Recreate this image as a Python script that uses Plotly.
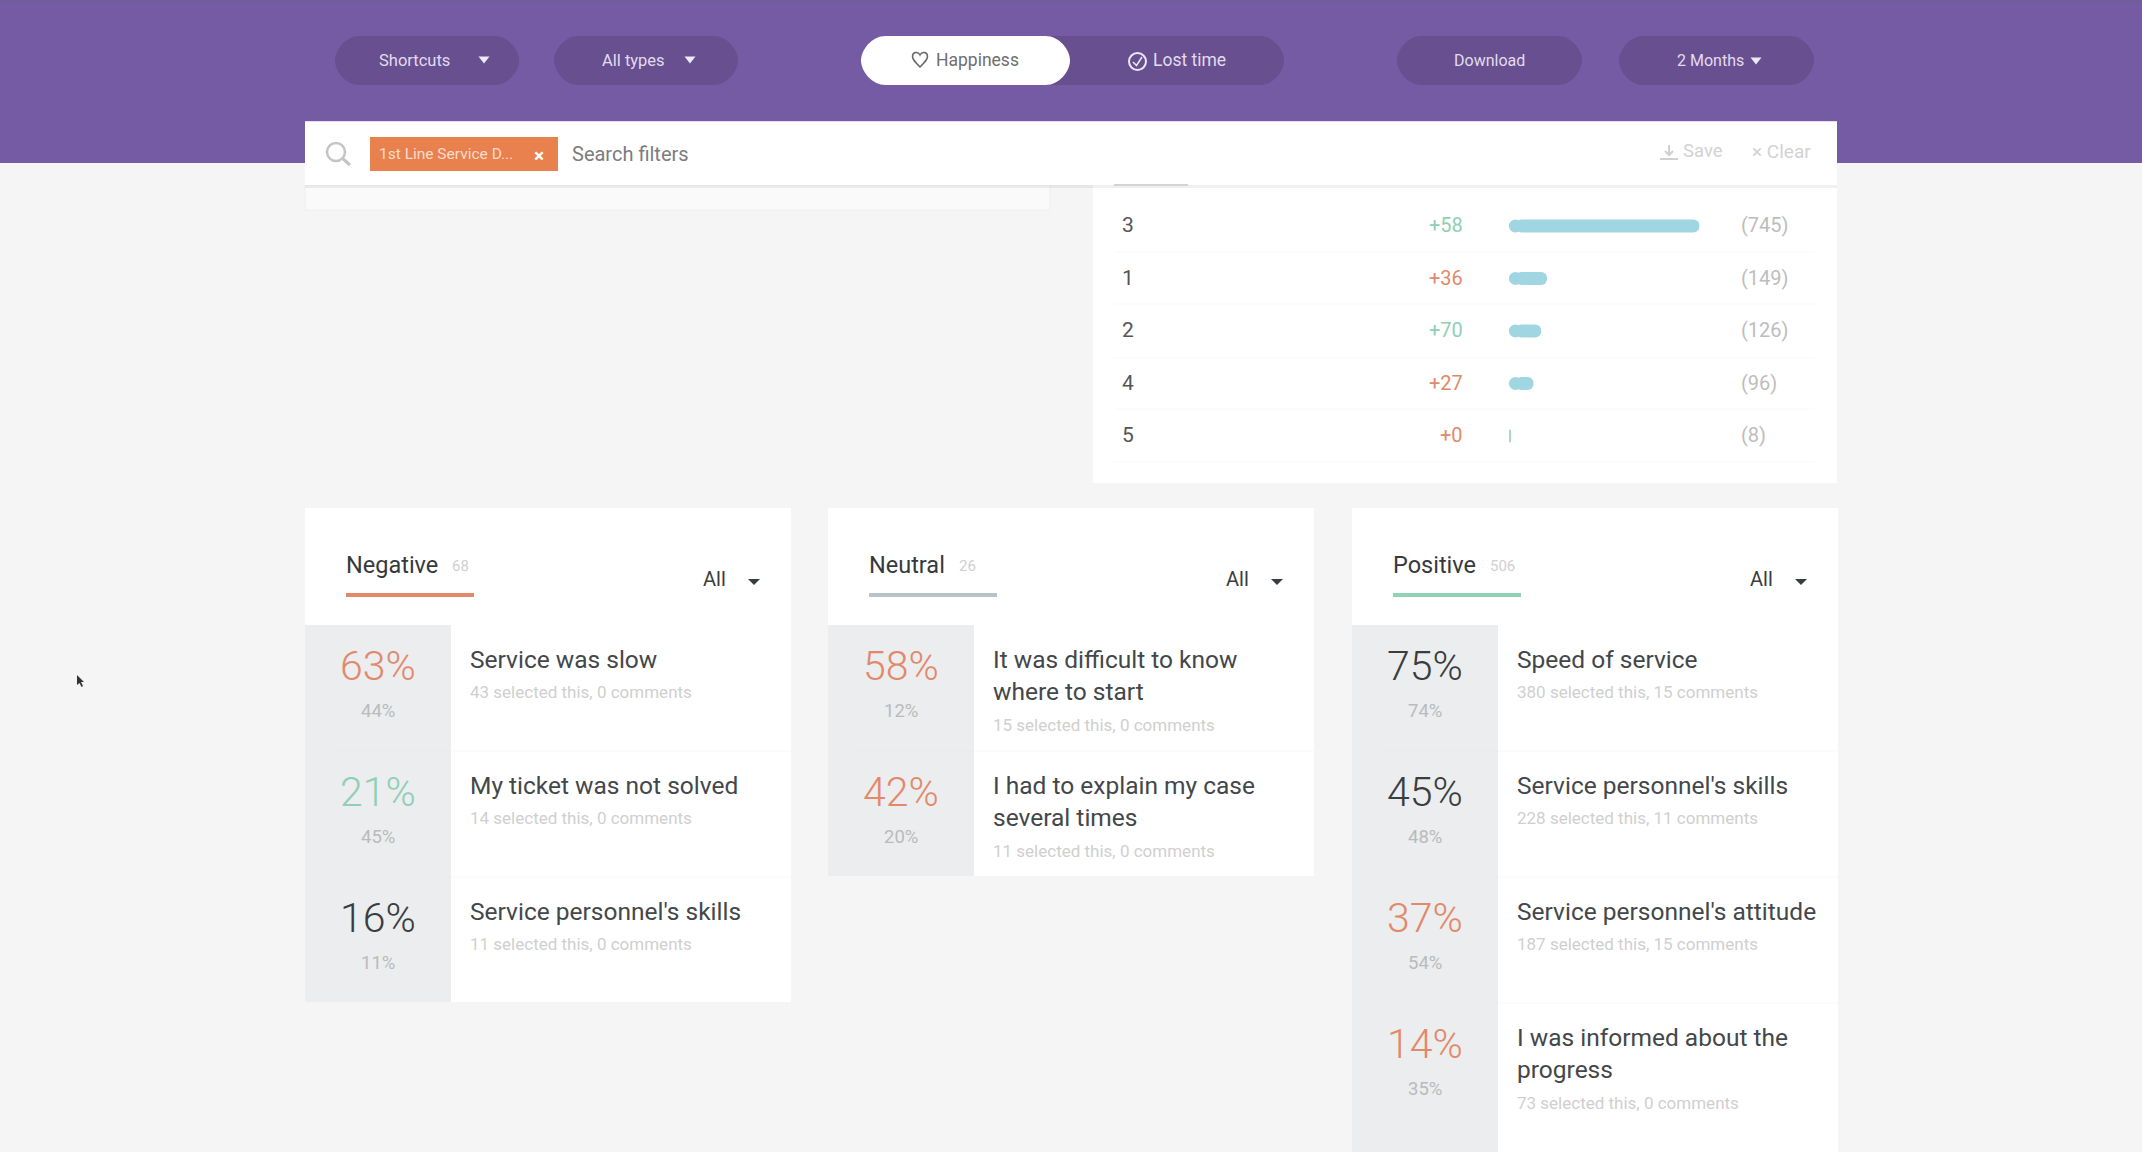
import plotly.graph_objects as go

# ---------- data ----------
rank_labels = ["3", "1", "2", "4", "5"]
rank_deltas = ["+58", "+36", "+70", "+27", "+0"]
rank_counts = [745, 149, 126, 96, 8]

column_names = ["Negative", "Neutral", "Positive"]
column_totals = ["68", "26", "506"]

negative_share = ["63%", "21%", "16%"]
negative_prev = ["44%", "45%", "11%"]
negative_titles = ["Service was slow", "My ticket was not solved", "Service personnel's skills"]
negative_notes = ["43 selected this, 0 comments", "14 selected this, 0 comments", "11 selected this, 0 comments"]

neutral_share = ["58%", "42%"]
neutral_prev = ["12%", "20%"]
neutral_titles = ["It was difficult to know\nwhere to start", "I had to explain my case\nseveral times"]
neutral_notes = ["15 selected this, 0 comments", "11 selected this, 0 comments"]

positive_share = ["75%", "45%", "37%", "14%"]
positive_prev = ["74%", "48%", "54%", "35%"]
positive_titles = ["Speed of service", "Service personnel's skills", "Service personnel's attitude",
                   "I was informed about the\nprogress"]
positive_notes = ["380 selected this, 15 comments", "228 selected this, 11 comments",
                  "187 selected this, 15 comments", "73 selected this, 0 comments"]

# ---------- styles ----------
FONT = "Roboto"
PURPLE, PILL = "#745ba4", "#674f90"
BG, CELL = "#f5f5f5", "#ebedee"
ORANGE, GREEN, DARK = "#e2896b", "#8fd0b4", "#3a3d40"
delta_colors = [GREEN, ORANGE, GREEN, ORANGE, ORANGE]
negative_colors = [ORANGE, GREEN, DARK]
neutral_colors = [ORANGE, ORANGE]
positive_colors = [DARK, DARK, ORANGE, ORANGE]
underline_colors = ["#e2896b", "#b7c3c9", "#8fd3b6"]

shapes, notes = [], []


def rect(x0, y0, x1, y1, fill, line=None):
    shapes.append(dict(type="rect", x0=x0, y0=y0, x1=x1, y1=y1, fillcolor=fill, layer="below",
                       line=dict(width=1 if line else 0, color=line or fill)))


def path(d, fill="rgba(0,0,0,0)", line=None, width=1.5):
    shapes.append(dict(type="path", path=d, fillcolor=fill, layer="below",
                       line=dict(width=width if line else 0, color=line or fill)))


def pill(x0, y0, x1, y1, fill):
    r = (y1 - y0) / 2
    path(f"M{x0+r},{y0} L{x1-r},{y0} C{x1-r*.45},{y0} {x1},{y0+r*.55} {x1},{y0+r} "
         f"C{x1},{y1-r*.55} {x1-r*.45},{y1} {x1-r},{y1} L{x0+r},{y1} "
         f"C{x0+r*.45},{y1} {x0},{y1-r*.55} {x0},{y0+r} C{x0},{y0+r*.55} {x0+r*.45},{y0} {x0+r},{y0} Z", fill)


def tri(cx, cy, w, h, fill):
    path(f"M{cx-w/2},{cy-h/2} L{cx+w/2},{cy-h/2} L{cx},{cy+h/2} Z", fill)


def text(x, y, s, size, color, anchor="left", weight=400):
    notes.append(dict(x=x, y=y, text=s, showarrow=False, xanchor=anchor, yanchor="middle", xref="x", yref="y",
                      font=dict(family=FONT, size=size, color=color, weight=weight)))


# ---------- header ----------
rect(0, 0, 2142, 163, PURPLE)
rect(0, 0, 2142, 2, "#6f5e98")
pill(335, 36, 519, 85, PILL)
pill(554, 36, 738, 85, PILL)
pill(861, 36, 1284, 85, PILL)
pill(861, 36, 1070, 85, "#ffffff")
pill(1397, 36, 1582, 85, PILL)
pill(1619, 36, 1814, 85, PILL)
text(377, 60, "Shortcuts", 16.5, "#e2dcee")
tri(484, 60, 11, 7, "#eeeaf5")
text(600, 60, "All types", 16.5, "#e2dcee")
tri(690, 60, 11, 7, "#eeeaf5")
path("M920,67 C915,62 912.5,59.5 912.5,56.5 C912.5,52 918,51 920,55 C922,51 927.5,52 927.5,56.5 "
     "C927.5,59.5 925,62 920,67 Z", line="#666666", width=1.5)
text(934, 60, "Happiness", 17.5, "#6e6e6e")
shapes.append(dict(type="circle", x0=1129, y0=53, x1=1146, y1=70, layer="below", line=dict(color="#ece7f4", width=2)))
path("M1133,62 L1136.5,65.5 L1142,57", line="#ece7f4", width=1.5)
text(1151, 60, "Lost time", 17.5, "#e2dcee")
text(1452, 60, "Download", 16, "#e2dcee")
text(1675, 60, "2 Months", 16, "#e2dcee")
tri(1756, 61, 11, 7, "#eeeaf5")

# ---------- page background panels ----------
rect(305, 185, 1050, 210, "#fafafa", "#eeeeee")
rect(1093, 185, 1837, 483, "#ffffff")
for y in (252, 304, 358, 409, 462):
    shapes.append(dict(type="line", x0=1114, x1=1815, y0=y, y1=y, layer="below", line=dict(color="#f9f9f9", width=1)))

# ---------- search bar ----------
rect(305, 185, 1837, 188, "rgba(0,0,0,0.06)")
rect(305, 121, 1837, 185, "#ffffff")
rect(305, 121, 1837, 122, "#e4dbf5")
rect(1114, 184, 1188, 186, "#d4d4d4")
shapes.append(dict(type="circle", x0=327, y0=143, x1=345, y1=161, layer="below", line=dict(color="#c4c4c4", width=2.5)))
shapes.append(dict(type="line", x0=342, y0=158, x1=350, y1=165, layer="below", line=dict(color="#c4c4c4", width=3)))
rect(370, 137, 558, 171, "#e9814f")
text(377, 154, "1st Line Service D...", 15.5, "#fbdccb")
text(539, 155, "×", 19, "#ffffff", "center", 700)
text(570, 154, "Search filters", 20, "#7c7c7c")
path("M1669,145 L1669,154 M1665,151 L1669,155 L1673,151", line="#d0d0d0", width=2)
rect(1660, 158, 1678, 160, "#d0d0d0")
text(1681, 151, "Save", 18.5, "#d2d2d2")
text(1750, 151, "× Clear", 19, "#d2d2d2")

# ---------- ranking rows (text) ----------
row_mid = [225 + 52.5 * i for i in range(len(rank_labels))]
for y, lab, d, c, col in zip(row_mid, rank_labels, rank_deltas, rank_counts, delta_colors):
    text(1120, y, lab, 21, "#555555")
    text(1465, y, d, 20, col, "right")
    text(1739, y, f"({c})", 20, "#bdbdbd")

# ---------- comment cards ----------
card_left = [305, 828, 1352]
card_share = [negative_share, neutral_share, positive_share]
card_prev = [negative_prev, neutral_prev, positive_prev]
card_titles = [negative_titles, neutral_titles, positive_titles]
card_notes = [negative_notes, neutral_notes, positive_notes]
card_colors = [negative_colors, neutral_colors, positive_colors]
ROW = 126
for k, x0 in enumerate(card_left):
    n = len(card_share[k])
    bottom = 1152 if k == 2 else 624 + ROW * n
    rect(x0, 508, x0 + 486, bottom, "#ffffff")
    rect(x0, 625, x0 + 146, bottom, CELL)
    text(x0 + 39, 565, column_names[k], 23.5, "#36393c")
    tw = {0: 145, 1: 129, 2: 136}[k]
    text(x0 + tw, 566, column_totals[k], 15, "#d0d0d0")
    rect(x0 + 41, 593, x0 + 169, 597, underline_colors[k])
    text(x0 + 396, 579, "All", 20, "#3a3d40")
    tri(x0 + 449, 582, 12, 6, "#3a3d40")
    for i in range(n):
        y0 = 625 + ROW * i
        if i:
            shapes.append(dict(type="line", x0=x0 + 146, x1=x0 + 486, y0=y0, y1=y0, layer="below",
                               line=dict(color="#f8f8f8", width=1)))
            shapes.append(dict(type="line", x0=x0 + 25, x1=x0 + 146, y0=y0, y1=y0, layer="below",
                               line=dict(color="#e9ebec", width=1)))
        cx = x0 + 73
        text(cx, y0 + 41, card_share[k][i], 41, card_colors[k][i], "center", 300)
        text(cx, y0 + 86, card_prev[k][i], 18.5, "#b9bbbc", "center")
        lines = card_titles[k][i].split("\n")
        for j, line in enumerate(lines):
            text(x0 + 162.5, y0 + 34 + 32.5 * j, line, 24.5, "#44474a")
        text(x0 + 162.5, y0 + 67 + 32.5 * (len(lines) - 1), card_notes[k][i], 17, "#cfcfcf")

# cursor
path("M77,675 L77,685 L79.5,683 L81.5,687 L83,686 L81,682 L84,682 Z", "#333333")

# ---------- figure ----------
CAP = 25  # half the bar thickness, in count units: the rounded start of each long bar
long_bar = [c > 2 * CAP for c in rank_counts]
fig = go.Figure()
fig.add_trace(go.Bar(
    x=[c - CAP if b else c for c, b in zip(rank_counts, long_bar)],
    base=[CAP if b else 0 for b in long_bar],
    y=rank_labels, orientation="h", xaxis="x2", yaxis="y2", width=0.25,
    marker=dict(color=["#9fd6e2"] * 4 + ["#a5dcc8"], cornerradius="50%", line=dict(width=0)),
    hoverinfo="skip", showlegend=False,
))
fig.add_trace(go.Scatter(
    x=[CAP for b in long_bar if b], y=[r for r, b in zip(rank_labels, long_bar) if b],
    mode="markers", xaxis="x2", yaxis="y2", cliponaxis=False,
    marker=dict(size=13, color="#9fd6e2", line=dict(width=0)), hoverinfo="skip", showlegend=False,
))
fig.update_layout(
    width=2142, height=1152, margin=dict(l=0, r=0, t=0, b=0), autosize=False,
    paper_bgcolor=BG, plot_bgcolor="rgba(0,0,0,0)", showlegend=False,
    shapes=shapes, annotations=notes,
    xaxis=dict(range=[0, 2142], visible=False, domain=[0, 1], fixedrange=True),
    yaxis=dict(range=[1152, 0], visible=False, domain=[0, 1], fixedrange=True),
    xaxis2=dict(range=[0, 745], domain=[1509 / 2142, 1699.5 / 2142], anchor="y2", visible=False, fixedrange=True),
    yaxis2=dict(type="category", categoryorder="array", categoryarray=rank_labels, autorange="reversed",
                domain=[1 - 462.25 / 1152, 1 - 199.75 / 1152], anchor="x2", visible=False, fixedrange=True),
)
fig.write_html("out.html", config=dict(displayModeBar=False),
               post_script="document.body.style.margin='0';document.body.style.overflow='hidden';")
